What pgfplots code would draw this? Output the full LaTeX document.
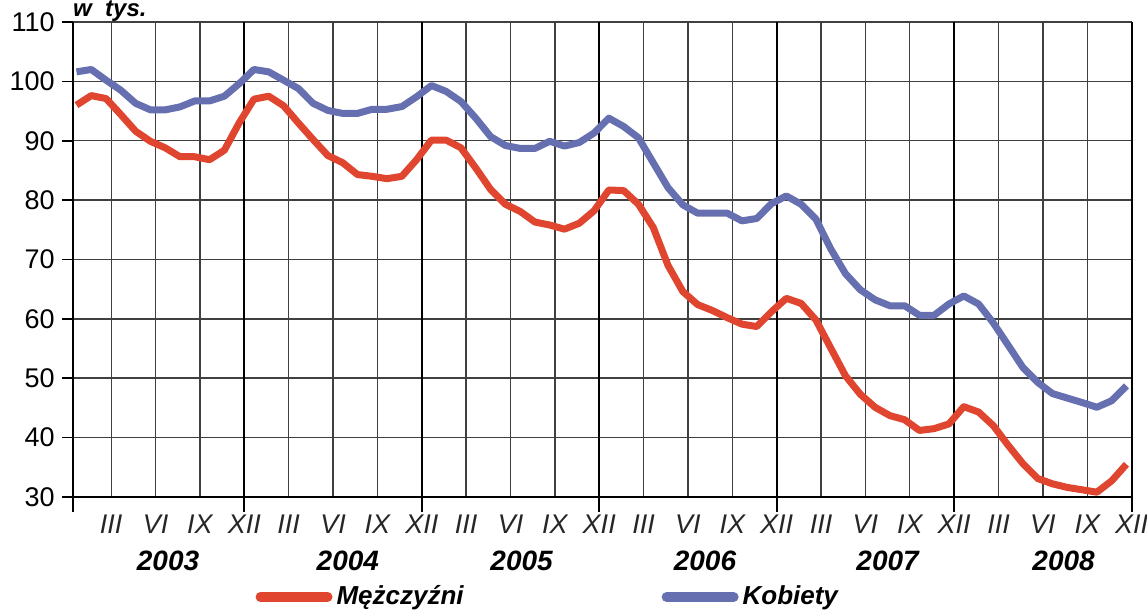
\documentclass[border=0pt]{standalone}
\usepackage{pgfplots}
\usepackage{pgfplotstable}
\pgfplotsset{compat=1.18}
\usetikzlibrary{calc}
\usepackage{fontspec}
\setmainfont{Liberation Sans}
\definecolor{menred}{HTML}{E0452F}
\definecolor{womenblue}{HTML}{6670B0}

% monthly values, Jan 2003 .. Dec 2008 (thousands)
\pgfplotstableread{
m men women
1 96.0 101.6
2 97.6 102.0
3 97.1 100.2
4 94.4 98.5
5 91.6 96.3
6 89.9 95.2
7 88.8 95.2
8 87.3 95.7
9 87.3 96.7
10 86.8 96.7
11 88.4 97.5
12 93.0 99.6
13 97.0 102.0
14 97.5 101.6
15 95.9 100.2
16 93.0 98.8
17 90.2 96.3
18 87.5 95.1
19 86.3 94.6
20 84.3 94.6
21 84.0 95.3
22 83.6 95.3
23 84.0 95.75
24 86.8 97.4
25 90.1 99.3
26 90.1 98.3
27 88.8 96.6
28 85.4 93.8
29 81.8 90.7
30 79.3 89.2
31 78.1 88.7
32 76.3 88.7
33 75.8 89.9
34 75.1 89.1
35 76.1 89.7
36 78.2 91.3
37 81.7 93.8
38 81.6 92.4
39 79.3 90.5
40 75.4 86.3
41 69.0 82.1
42 64.6 79.2
43 62.4 77.8
44 61.4 77.8
45 60.2 77.8
46 59.1 76.5
47 58.7 76.9
48 61.2 79.4
49 63.45 80.7
50 62.6 79.3
51 59.8 76.8
52 55.1 71.8
53 50.4 67.6
54 47.3 64.9
55 45.1 63.2
56 43.7 62.2
57 43.0 62.2
58 41.2 60.6
59 41.5 60.6
60 42.3 62.5
61 45.2 63.85
62 44.3 62.5
63 42.0 59.3
64 38.7 55.55
65 35.6 51.8
66 33.1 49.3
67 32.2 47.4
68 31.6 46.65
69 31.2 45.9
70 30.8 45.1
71 32.7 46.2
72 35.5 48.7
}\monthly

\begin{document}
\begin{tikzpicture}
\begin{axis}[
  scale only axis,
  width=529.5pt, height=237.5pt,
  xmin=0.4, xmax=72, ymin=30, ymax=110,
  clip=false,
  axis x line*=bottom, axis y line*=left,
  axis line style={black, line width=1pt, -},
  font=\fontsize{13}{15}\selectfont,
  tick align=outside,
  major tick length=5.5pt,
  ytick={30,40,...,110},
  ytick style={black, line width=0.8pt},
  /pgf/number format/assume math mode=true,
  yticklabel style={font=\fontsize{13.5}{15}\selectfont},
  xtick={3,6,...,72},
  xticklabels={III,VI,IX,XII,III,VI,IX,XII,III,VI,IX,XII,III,VI,IX,XII,III,VI,IX,XII,III,VI,IX,XII},
  xticklabel style={font=\fontsize{13.5}{15}\selectfont\itshape, text=black!85},
  xtick style={draw=none},
  grid=major,
  major grid style={black!75, line width=0.7pt},
  extra x ticks={0.4,12,24,36,48,60,72},
  extra x tick labels={},
  extra tick style={
    major tick length=7.5pt,
    xtick style={draw=black, line width=1pt},
    major grid style={black, line width=1pt}},
  legend columns=2,
  legend style={at={(0,0)}, anchor=west, xshift=91.2pt, yshift=-50pt,
    draw=none, fill=none, inner sep=0pt,
    font=\fontsize{13}{15}\selectfont\bfseries\itshape,
    /tikz/every even column/.append style={column sep=97pt}},
  legend image code/.code={\draw[#1, line width=5pt, line cap=round] (1.5pt,0pt) -- (35pt,0pt);},
]
\addplot[menred, line width=3.5pt, line join=round]
  table[x expr=\thisrow{m}-0.35, y=men] {\monthly};
\addlegendentry{Mężczyźni}
\addplot[womenblue, line width=3.5pt, line join=round]
  table[x expr=\thisrow{m}-0.35, y=women] {\monthly};
\addlegendentry{Kobiety}

\node[anchor=base west, font=\fontsize{12}{14}\selectfont\bfseries\itshape, inner sep=0pt]
  at ([yshift=2.5pt]rel axis cs:0,1) {w\ \ tys.};
\node[anchor=base, font=\fontsize{14}{16}\selectfont\bfseries\itshape, inner sep=0pt]
  at ([yshift=-36.7pt]axis cs:6.84,30) {2003};
\node[anchor=base, font=\fontsize{14}{16}\selectfont\bfseries\itshape, inner sep=0pt]
  at ([yshift=-36.7pt]axis cs:19.0,30) {2004};
\node[anchor=base, font=\fontsize{14}{16}\selectfont\bfseries\itshape, inner sep=0pt]
  at ([yshift=-36.7pt]axis cs:30.75,30) {2005};
\node[anchor=base, font=\fontsize{14}{16}\selectfont\bfseries\itshape, inner sep=0pt]
  at ([yshift=-36.7pt]axis cs:43.15,30) {2006};
\node[anchor=base, font=\fontsize{14}{16}\selectfont\bfseries\itshape, inner sep=0pt]
  at ([yshift=-36.7pt]axis cs:55.5,30) {2007};
\node[anchor=base, font=\fontsize{14}{16}\selectfont\bfseries\itshape, inner sep=0pt]
  at ([yshift=-36.7pt]axis cs:67.4,30) {2008};
\end{axis}
\pgfresetboundingbox
\useasboundingbox ($(current axis.south west)+(-36.4pt,-56.5pt)$) rectangle ($(current axis.north east)+(7.7pt,11pt)$);
\end{tikzpicture}
\end{document}
